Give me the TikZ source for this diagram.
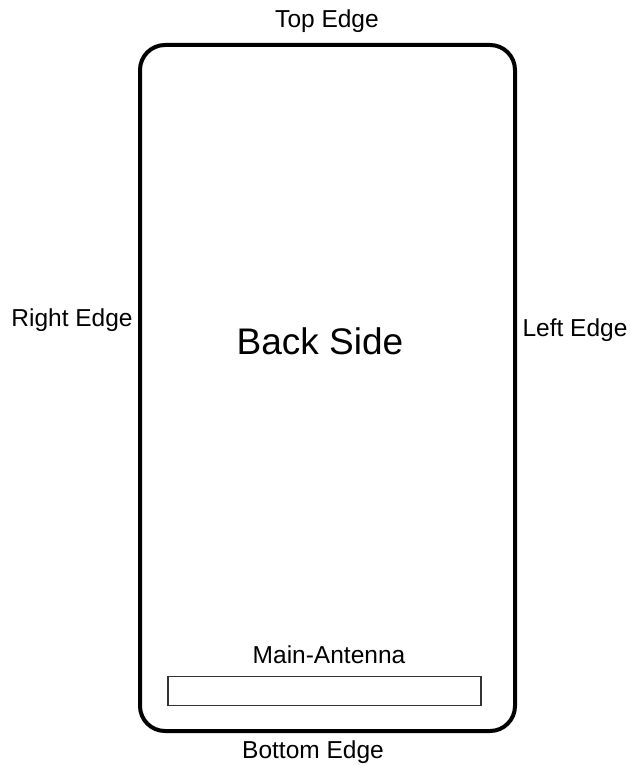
\documentclass[tikz,border=0pt]{standalone}
\usepackage{fontspec}
\setmainfont{Liberation Sans}
\begin{document}
\begin{tikzpicture}[x=1pt,y=-1pt,every node/.style={font=\fontsize{24.5}{28}\selectfont}]
\tikzset{edge/.style={inner sep=0, anchor=center},
  phone/.style={draw, line width=4pt, rounded corners=25pt, minimum width=375pt, minimum height=686pt, inner sep=0},
  ant/.style={draw=black!80, line width=1.2pt, minimum width=313pt, minimum height=29pt, inner sep=0}}
\useasboundingbox (0,0) rectangle (631,765);
% phone outline and antenna strip
\node[phone] (body) at (327.5,388) {};
\node[ant] (antenna) at (324.5,691) {};
% labels
\node[font=\fontsize{37}{42}\selectfont] (back) at (320,341) {Back Side};
\node[edge] (main) at (329,655) {Main-Antenna};
\node[edge] (top) at (327,21) {Top Edge};
\node[edge] (bottom) at (313,752) {Bottom Edge};
\node[edge] (right) at (72,320) {Right Edge};
\node[edge] (left) at (575,330) {Left Edge};
\end{tikzpicture}
\end{document}
